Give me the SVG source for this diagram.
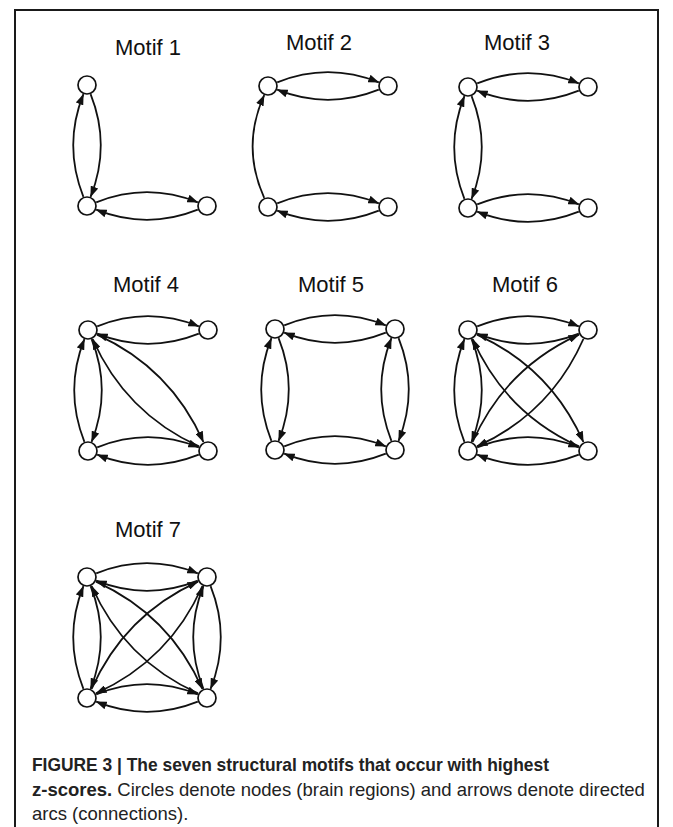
<svg xmlns="http://www.w3.org/2000/svg" width="673" height="827" viewBox="0 0 673 827">
<style>
.bg{fill:#ffffff}
.frame{fill:none;stroke:#1a1a1a;stroke-width:2}
.title{font-family:"Liberation Sans",Arial,sans-serif;font-size:22px;fill:#111;text-anchor:middle}
.node{fill:#ffffff;stroke:#111;stroke-width:1.7}
.edge{fill:none;stroke:#111;stroke-width:1.8;marker-end:url(#ah)}
.cap{font-family:"Liberation Sans",Arial,sans-serif;font-size:18.5px;fill:#222}
.b{font-weight:bold}
</style>
<defs>
<marker id="ah" viewBox="0 0 11 8" refX="10.5" refY="4" markerWidth="11" markerHeight="8" markerUnits="userSpaceOnUse" orient="auto">
<path d="M0,0 L11,4 L0,8 z" fill="#111"/>
</marker>
</defs>
<rect class="bg" x="0" y="0" width="673" height="827"/>
<path class="frame" d="M15,827 V10 H658 V827"/>

<g id="titles">
<text class="title" x="148" y="55">Motif 1</text>
<text class="title" x="319" y="50">Motif 2</text>
<text class="title" x="517" y="50">Motif 3</text>
<text class="title" x="146" y="292">Motif 4</text>
<text class="title" x="331" y="292">Motif 5</text>
<text class="title" x="525" y="292">Motif 6</text>
<text class="title" x="148" y="537">Motif 7</text>
</g>

<g id="connectors">
<g id="m1-edges" transform="translate(87,85)">
<path class="edge" d="M-3.6,111.8 Q-24,60.5 -3.6,9.2"/>
<path class="edge" d="M3.6,9.2 Q24,60.5 3.6,111.8"/>
<path class="edge" d="M9.2,117.4 Q60,97 110.8,117.4"/>
<path class="edge" d="M110.8,124.6 Q60,145 9.2,124.6"/>
</g>
<g id="m2-edges" transform="translate(268,86)">
<path class="edge" d="M9.2,-3.6 Q60,-24 110.8,-3.6"/>
<path class="edge" d="M110.8,3.6 Q60,24 9.2,3.6"/>
<path class="edge" d="M9.2,117.4 Q60,97 110.8,117.4"/>
<path class="edge" d="M110.8,124.6 Q60,145 9.2,124.6"/>
<path class="edge" d="M-3.8,111.8 Q-27,60.5 -3.8,9.2"/>
</g>
<g id="m3-edges" transform="translate(468,87)">
<path class="edge" d="M9.2,-3.6 Q60,-24 110.8,-3.6"/>
<path class="edge" d="M110.8,3.6 Q60,24 9.2,3.6"/>
<path class="edge" d="M9.2,117.4 Q60,97 110.8,117.4"/>
<path class="edge" d="M110.8,124.6 Q60,145 9.2,124.6"/>
<path class="edge" d="M-3.6,111.8 Q-24,60.5 -3.6,9.2"/>
<path class="edge" d="M3.6,9.2 Q24,60.5 3.6,111.8"/>
</g>
<g id="m4-edges" transform="translate(88,330)">
<path class="edge" d="M9.2,-3.6 Q60,-24 110.8,-3.6"/>
<path class="edge" d="M110.8,3.6 Q60,24 9.2,3.6"/>
<path class="edge" d="M9.2,117.4 Q60,97 110.8,117.4"/>
<path class="edge" d="M110.8,124.6 Q60,145 9.2,124.6"/>
<path class="edge" d="M-3.6,111.8 Q-24,60.5 -3.6,9.2"/>
<path class="edge" d="M3.6,9.2 Q24,60.5 3.6,111.8"/>
<path class="edge" d="M9,4.6 Q82.7,38 115.4,112"/>
<path class="edge" d="M111,116.4 Q37.3,83 4.6,9"/>
</g>
<g id="m5-edges" transform="translate(275,329)">
<path class="edge" d="M9.2,-3.6 Q60,-24 110.8,-3.6"/>
<path class="edge" d="M110.8,3.6 Q60,24 9.2,3.6"/>
<path class="edge" d="M9.2,117.4 Q60,97 110.8,117.4"/>
<path class="edge" d="M110.8,124.6 Q60,145 9.2,124.6"/>
<path class="edge" d="M-3.6,111.8 Q-24,60.5 -3.6,9.2"/>
<path class="edge" d="M3.6,9.2 Q24,60.5 3.6,111.8"/>
<path class="edge" d="M116.4,111.8 Q96,60.5 116.4,9.2"/>
<path class="edge" d="M123.6,9.2 Q144,60.5 123.6,111.8"/>
</g>
<g id="m6-edges" transform="translate(468,330)">
<path class="edge" d="M9.2,-3.6 Q60,-24 110.8,-3.6"/>
<path class="edge" d="M110.8,3.6 Q60,24 9.2,3.6"/>
<path class="edge" d="M9.2,117.4 Q60,97 110.8,117.4"/>
<path class="edge" d="M110.8,124.6 Q60,145 9.2,124.6"/>
<path class="edge" d="M-3.6,111.8 Q-24,60.5 -3.6,9.2"/>
<path class="edge" d="M3.6,9.2 Q24,60.5 3.6,111.8"/>
<path class="edge" d="M9,4.6 Q82.7,38 115.4,112"/>
<path class="edge" d="M111,116.4 Q37.3,83 4.6,9"/>
<path class="edge" d="M4.6,112 Q37.3,38 111,4.6"/>
<path class="edge" d="M115.4,9 Q82.7,83 9,116.4"/>
</g>
<g id="m7-edges" transform="translate(87,577)">
<path class="edge" d="M9.2,-3.6 Q60,-24 110.8,-3.6"/>
<path class="edge" d="M110.8,3.6 Q60,24 9.2,3.6"/>
<path class="edge" d="M9.2,117.4 Q60,97 110.8,117.4"/>
<path class="edge" d="M110.8,124.6 Q60,145 9.2,124.6"/>
<path class="edge" d="M-3.6,111.8 Q-24,60.5 -3.6,9.2"/>
<path class="edge" d="M3.6,9.2 Q24,60.5 3.6,111.8"/>
<path class="edge" d="M116.4,111.8 Q96,60.5 116.4,9.2"/>
<path class="edge" d="M123.6,9.2 Q144,60.5 123.6,111.8"/>
<path class="edge" d="M9,4.6 Q82.7,38 115.4,112"/>
<path class="edge" d="M111,116.4 Q37.3,83 4.6,9"/>
<path class="edge" d="M4.6,112 Q37.3,38 111,4.6"/>
<path class="edge" d="M115.4,9 Q82.7,83 9,116.4"/>
</g>
</g>

<g id="m1-nodes" transform="translate(87,85)">
<g id="m1-tl"><circle class="node" cx="0" cy="0" r="9"/></g>
<g id="m1-bl"><circle class="node" cx="0" cy="121" r="9"/></g>
<g id="m1-br"><circle class="node" cx="120" cy="121" r="9"/></g>
</g>
<g id="m2-nodes" transform="translate(268,86)">
<g id="m2-tl"><circle class="node" cx="0" cy="0" r="9"/></g>
<g id="m2-tr"><circle class="node" cx="120" cy="0" r="9"/></g>
<g id="m2-bl"><circle class="node" cx="0" cy="121" r="9"/></g>
<g id="m2-br"><circle class="node" cx="120" cy="121" r="9"/></g>
</g>
<g id="m3-nodes" transform="translate(468,87)">
<g id="m3-tl"><circle class="node" cx="0" cy="0" r="9"/></g>
<g id="m3-tr"><circle class="node" cx="120" cy="0" r="9"/></g>
<g id="m3-bl"><circle class="node" cx="0" cy="121" r="9"/></g>
<g id="m3-br"><circle class="node" cx="120" cy="121" r="9"/></g>
</g>
<g id="m4-nodes" transform="translate(88,330)">
<g id="m4-tl"><circle class="node" cx="0" cy="0" r="9"/></g>
<g id="m4-tr"><circle class="node" cx="120" cy="0" r="9"/></g>
<g id="m4-bl"><circle class="node" cx="0" cy="121" r="9"/></g>
<g id="m4-br"><circle class="node" cx="120" cy="121" r="9"/></g>
</g>
<g id="m5-nodes" transform="translate(275,329)">
<g id="m5-tl"><circle class="node" cx="0" cy="0" r="9"/></g>
<g id="m5-tr"><circle class="node" cx="120" cy="0" r="9"/></g>
<g id="m5-bl"><circle class="node" cx="0" cy="121" r="9"/></g>
<g id="m5-br"><circle class="node" cx="120" cy="121" r="9"/></g>
</g>
<g id="m6-nodes" transform="translate(468,330)">
<g id="m6-tl"><circle class="node" cx="0" cy="0" r="9"/></g>
<g id="m6-tr"><circle class="node" cx="120" cy="0" r="9"/></g>
<g id="m6-bl"><circle class="node" cx="0" cy="121" r="9"/></g>
<g id="m6-br"><circle class="node" cx="120" cy="121" r="9"/></g>
</g>
<g id="m7-nodes" transform="translate(87,577)">
<g id="m7-tl"><circle class="node" cx="0" cy="0" r="9"/></g>
<g id="m7-tr"><circle class="node" cx="120" cy="0" r="9"/></g>
<g id="m7-bl"><circle class="node" cx="0" cy="121" r="9"/></g>
<g id="m7-br"><circle class="node" cx="120" cy="121" r="9"/></g>
</g>

<g id="caption">
<text class="cap b" x="32" y="771" textLength="517" lengthAdjust="spacingAndGlyphs">FIGURE 3 | The seven structural motifs that occur with highest</text>
<text class="cap" x="32" y="796"><tspan class="b">z-scores.</tspan> Circles denote nodes (brain regions) and arrows denote directed</text>
<text class="cap" x="32" y="820">arcs (connections).</text>
</g>
</svg>
